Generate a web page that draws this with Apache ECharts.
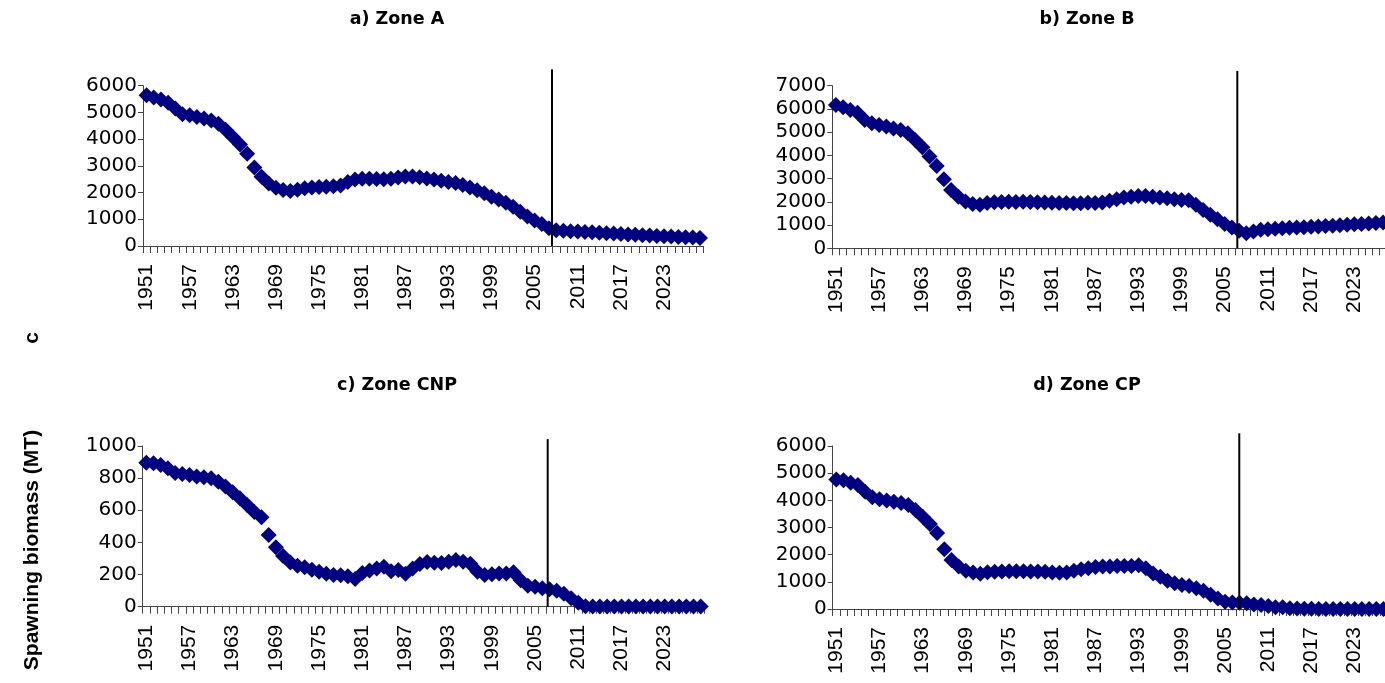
<!DOCTYPE html>
<html>
<head>
<meta charset="utf-8">
<script src="https://cdn.jsdelivr.net/npm/echarts@6/dist/echarts.min.js"></script>
<style>
  html, body { margin: 0; padding: 0; background: #fff; }
  #chart { width: 1385px; height: 683px; }
</style>
</head>
<body>
<div id="chart"></div>
<script>
// Years on the category axis
const years = [
  '1951','1952','1953','1954','1955','1956','1957','1958','1959','1960',
  '1961','1962','1963','1964','1965','1966','1967','1968','1969','1970',
  '1971','1972','1973','1974','1975','1976','1977','1978','1979','1980',
  '1981','1982','1983','1984','1985','1986','1987','1988','1989','1990',
  '1991','1992','1993','1994','1995','1996','1997','1998','1999','2000',
  '2001','2002','2003','2004','2005','2006','2007','2008','2009','2010',
  '2011','2012','2013','2014','2015','2016','2017','2018','2019','2020',
  '2021','2022','2023','2024','2025','2026','2027','2028'
];

// Spawning biomass (MT) by zone
const zoneA = [
  5640,5560,5480,5360,5150,4930,4890,4830,4770,4700,
  4580,4350,4080,3800,3450,2940,2590,2340,2180,2100,
  2060,2110,2160,2190,2210,2220,2240,2260,2400,2490,
  2520,2520,2510,2500,2520,2560,2600,2600,2570,2530,
  2490,2440,2400,2360,2280,2190,2090,1970,1840,1740,
  1620,1470,1280,1100,950,820,660,590,570,555,
  540,525,510,495,480,465,450,435,420,405,
  390,378,366,352,340,326,314,300
];
const zoneB = [
  6170,6070,5950,5840,5520,5380,5310,5240,5160,5090,
  4950,4660,4350,3950,3540,2970,2510,2220,2010,1910,
  1870,1950,1980,1990,2000,1990,2000,1990,1980,1970,
  1960,1950,1950,1940,1940,1960,1950,1970,2050,2110,
  2190,2220,2250,2250,2220,2190,2150,2110,2080,2070,
  1870,1650,1440,1250,1050,900,760,650,720,800,
  820,840,860,880,895,910,925,940,960,975,
  990,1010,1030,1050,1070,1090,1110,1130
];
const zoneCNP = [
  896,893,882,862,832,826,820,810,805,800,
  778,748,712,675,633,590,556,446,370,315,
  275,255,245,230,218,205,198,196,190,172,
  210,225,238,249,220,228,205,238,265,278,
  274,272,280,290,280,268,218,197,202,206,
  207,215,165,130,124,115,108,100,80,53,
  25,3,2,2,2,2,2,2,2,2,
  2,2,2,2,2,2,2,2
];
const zoneCP = [
  4770,4740,4650,4560,4320,4110,4040,3990,3950,3900,
  3830,3640,3400,3130,2800,2200,1800,1560,1410,1340,
  1300,1350,1370,1380,1390,1390,1390,1380,1380,1370,
  1340,1330,1340,1410,1460,1500,1550,1560,1560,1580,
  1580,1580,1610,1500,1310,1190,1040,950,880,850,
  760,670,520,390,270,235,230,210,170,145,
  110,65,60,25,15,8,5,4,3,3,
  2,2,2,2,2,2,2,2
];

const panelTitles = ['a) Zone A', 'b) Zone B', 'c) Zone CNP', 'd) Zone CP'];
const yMax = [6000, 7000, 1000, 6000];
const yStep = [1000, 1000, 200, 1000];

// Vertical divider per panel: position in years and height in MT
const dividerYear = [2007.42, 2006.75, 2006.75, 2006.97];
const dividerTop = [6612, 7632, 1043, 6467];

const seriesData = [zoneA, zoneB, zoneCNP, zoneCP];

// Panel placement (pixels)
const grids = [
  { left: 143,   top: 85.7, width: 560.5, height: 160.3 },
  { left: 832.3, top: 85.7, width: 561.6, height: 162.6 },
  { left: 142.7, top: 446,  width: 561.6, height: 160.7 },
  { left: 832.7, top: 446,  width: 561.6, height: 163 }
];
const titlePos = [
  { left: 392, top: 5 }, { left: 1082, top: 5 },
  { left: 392, top: 371 }, { left: 1082, top: 371 }
];

const axisGray = '#444';
const xAxes = [], yAxes = [], series = [], titles = [];

grids.forEach((g, i) => {
  g.outerBoundsMode = 'none';
  g.containLabel = false;

  titles.push({
    text: panelTitles[i],
    left: titlePos[i].left,
    top: titlePos[i].top,
    textAlign: 'center',
    textStyle: { fontFamily: 'DejaVu Sans', fontWeight: 'bold', fontSize: 17.5, color: '#000' }
  });

  xAxes.push({
    type: 'category',
    gridIndex: i,
    data: years,
    boundaryGap: true,
    axisLine: { lineStyle: { color: axisGray, width: 1 } },
    axisTick: { show: true, interval: 0, length: 7, lineStyle: { color: axisGray } },
    axisLabel: {
      interval: 5, rotate: 90, margin: 18,
      fontFamily: 'Liberation Sans', fontSize: 21, color: '#000'
    },
    splitLine: { show: false }
  });
  // hidden continuous year scale used for the divider line
  xAxes.push({
    type: 'value',
    gridIndex: i,
    min: 1950.5,
    max: 2028.5,
    show: false
  });

  yAxes.push({
    type: 'value',
    gridIndex: i,
    min: 0,
    max: yMax[i],
    interval: yStep[i],
    axisLine: { show: true, lineStyle: { color: axisGray, width: 1 } },
    axisTick: { show: true, length: 5, lineStyle: { color: axisGray } },
    axisLabel: {
      margin: 6, fontFamily: 'DejaVu Sans', fontSize: 20, color: '#000',
      formatter: v => String(v)
    },
    splitLine: { show: false }
  });

  series.push({
    type: 'scatter',
    xAxisIndex: i * 2,
    yAxisIndex: i,
    data: seriesData[i],
    symbol: 'diamond',
    symbolSize: 16,
    itemStyle: { color: '#000080', opacity: 1 },
    z: 2,
    silent: true
  });

  series.push({
    type: 'line',
    xAxisIndex: i * 2 + 1,
    yAxisIndex: i,
    data: [[dividerYear[i], 0], [dividerYear[i], dividerTop[i]]],
    symbol: 'none',
    clip: false,
    lineStyle: { color: '#000', width: 2 },
    z: 5,
    silent: true
  });
});

const chart = echarts.init(document.getElementById('chart'), null, { renderer: 'canvas' });
chart.setOption({
  animation: false,
  backgroundColor: '#fff',
  title: titles,
  grid: grids,
  xAxis: xAxes,
  yAxis: yAxes,
  series: series,
  graphic: [
    {
      type: 'text',
      x: 32, y: 550,
      rotation: Math.PI / 2,
      style: {
        text: 'Spawning biomass (MT)',
        font: 'bold 21px "Liberation Sans"',
        fill: '#000',
        align: 'center', verticalAlign: 'middle',
        textAlign: 'center', textVerticalAlign: 'middle'
      }
    },
    {
      type: 'text',
      x: 32, y: 338,
      rotation: Math.PI / 2,
      style: {
        text: 'c',
        font: 'bold 21px "Liberation Sans"',
        fill: '#000',
        align: 'center', verticalAlign: 'middle',
        textAlign: 'center', textVerticalAlign: 'middle'
      }
    }
  ]
});
</script>
</body>
</html>
